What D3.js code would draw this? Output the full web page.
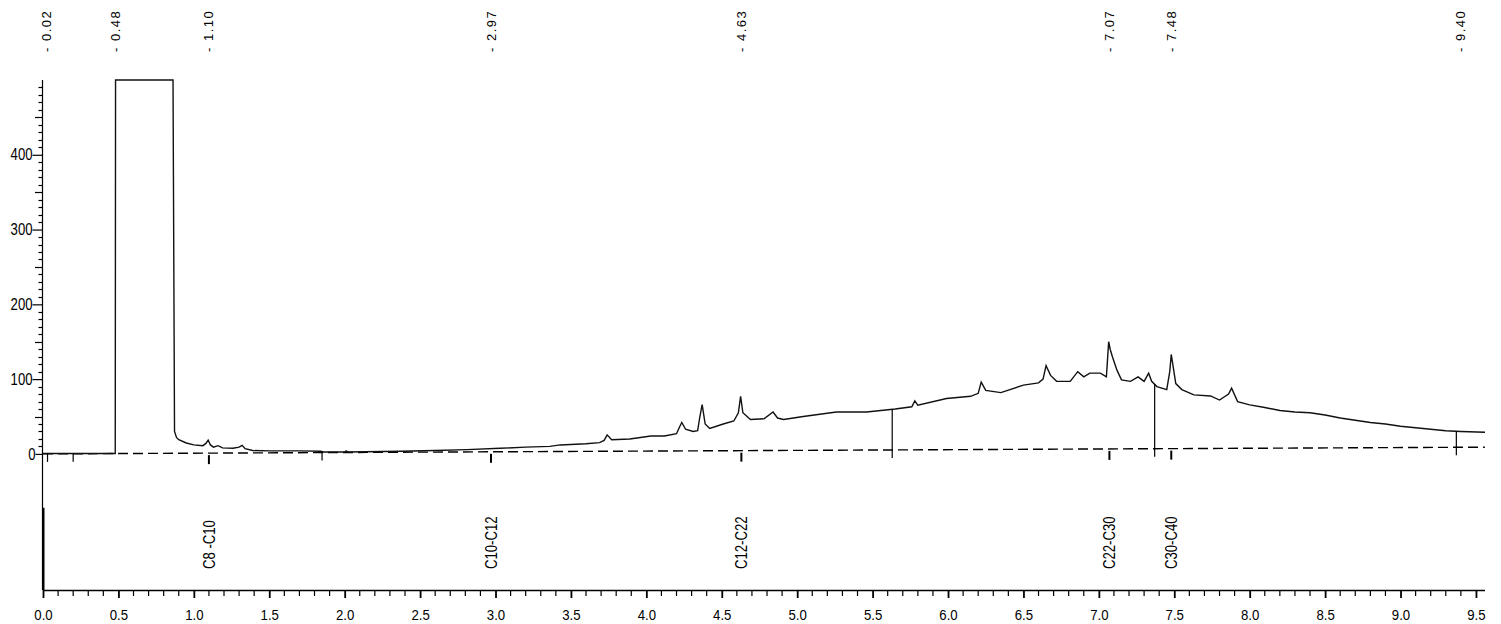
<!DOCTYPE html>
<html>
<head>
<meta charset="utf-8">
<script src="https://cdn.jsdelivr.net/npm/d3@7"></script>
<style>
  body { margin: 0; background: #fff; }
  svg { display: block; font-family: "Liberation Sans", Arial, sans-serif; }
</style>
</head>
<body>
<div id="chart"></div>
<script>
// retention time (min) and detector signal
const traceTime = [0, 0.479, 0.481, 0.862, 0.872, 0.885, 0.9, 0.95, 1.0, 1.06, 1.08, 1.095, 1.11, 1.13, 1.16, 1.19,
  1.26, 1.30, 1.32, 1.34, 1.39, 1.5, 1.7, 1.84, 1.86, 2.0, 2.01, 2.02, 2.37, 2.6, 2.81, 3.03, 3.2, 3.36, 3.43, 3.6,
  3.69, 3.72, 3.74, 3.77, 3.89, 4.03, 4.12, 4.2, 4.22, 4.235, 4.26, 4.31, 4.34, 4.355, 4.37, 4.39, 4.42, 4.51, 4.58,
  4.61, 4.625, 4.64, 4.69, 4.78, 4.84, 4.87, 4.91, 5.04, 5.26, 5.46, 5.65, 5.76, 5.78, 5.8, 5.99, 6.15, 6.2, 6.22,
  6.25, 6.35, 6.5, 6.6, 6.63, 6.65, 6.68, 6.72, 6.81, 6.86, 6.90, 6.94, 7.01, 7.05, 7.065, 7.075, 7.09, 7.12, 7.15,
  7.21, 7.26, 7.30, 7.33, 7.35, 7.385, 7.45, 7.47, 7.48, 7.51, 7.55, 7.63, 7.74, 7.80, 7.86, 7.88, 7.92, 8.0,
  8.1, 8.2, 8.3, 8.4, 8.5, 8.6, 8.7, 8.8, 8.9, 9.0, 9.1, 9.2, 9.3, 9.4, 9.56];
const traceSignal = [0.5, 0.5, 500, 500, 30, 22, 19, 14.6, 12, 11, 14, 18.5, 12, 9, 11, 8,
  7.5, 9, 11.5, 7, 4.5, 4, 4, 3.6, 2.5, 2.6, 4, 2.6, 3.5, 4.5, 5.7, 7.5, 9, 10, 12, 13.5,
  15, 18, 25.5, 19, 20, 24, 24, 27, 36, 42, 33, 30, 31, 50, 66, 40, 34, 40, 44,
  55, 77, 55, 46, 47, 56, 48, 46, 50, 56, 56, 60, 63, 71, 65, 74, 77, 81, 96,
  85, 82, 92, 95, 100, 118, 105, 97, 97, 110, 103, 108, 108, 103, 150, 140, 130, 112, 99,
  97, 103, 97, 108, 97, 90, 86, 110, 133, 94, 86, 79, 77.5, 72, 80, 88, 70, 65.5,
  62, 58, 56, 55, 52, 48, 45, 42, 40, 37, 35, 33, 31, 30, 29];

// drawn baseline (dashed)
const baseTime = [0, 9.56];
const baseSignal = [0, 9];

// integration event marks
const eventTimes = [0.03, 0.2, 1.85, 5.63, 7.37, 9.37];

// peak retention times printed at the top
const peakTimes = [0.02, 0.48, 1.10, 2.97, 4.63, 7.07, 7.48, 9.40];
const peakLabels = ["- 0.02", "- 0.48", "- 1.10", "- 2.97", "- 4.63", "- 7.07", "- 7.48", "- 9.40"];

// carbon range markers
const rangeTimes = [1.10, 2.97, 4.63, 7.07, 7.48];
const rangeLabels = ["C8 -C10", "C10-C12", "C12-C22", "C22-C30", "C30-C40"];

const xTickValues = [0, 0.5, 1, 1.5, 2, 2.5, 3, 3.5, 4, 4.5, 5, 5.5, 6, 6.5, 7, 7.5, 8, 8.5, 9, 9.5];
const xTickLabels = ["0.0", "0.5", "1.0", "1.5", "2.0", "2.5", "3.0", "3.5", "4.0", "4.5", "5.0", "5.5", "6.0", "6.5", "7.0", "7.5", "8.0", "8.5", "9.0", "9.5"];
const yTickValues = [0, 100, 200, 300, 400];
const yTickLabels = ["0", "100", "200", "300", "400"];

const width = 1501, height = 624;
const narrow = 0.82; // horizontal squeeze to mimic a narrow face
const x = d3.scaleLinear().domain([0, 9.56]).range([43, 1485]);
const y = d3.scaleLinear().domain([-182, 500]).range([590, 80]);
const yBase = d3.scaleLinear().domain(baseTime).range(baseSignal);
const traceAt = t => {
  const i = d3.bisectLeft(traceTime, t);
  if (i <= 0) return traceSignal[0];
  const t0 = traceTime[i - 1], t1 = traceTime[i];
  return traceSignal[i - 1] + (traceSignal[i] - traceSignal[i - 1]) * (t - t0) / (t1 - t0);
};

const svg = d3.select("#chart").append("svg")
  .attr("width", width).attr("height", height);

// y axis line + ticks
svg.append("line").attr("x1", 42.5).attr("x2", 42.5)
  .attr("y1", y(500)).attr("y2", y(-182)).attr("stroke", "#000").attr("stroke-width", 1.2);
svg.append("line").attr("x1", 43.5).attr("x2", 43.5)
  .attr("y1", y(-72)).attr("y2", y(-182)).attr("stroke", "#000").attr("stroke-width", 2);

const yMinor = d3.range(10, 500, 10).filter(v => v % 100 !== 0);
svg.append("g").selectAll("line").data(yMinor).enter().append("line")
  .attr("x1", d => d % 50 === 0 ? 35 : 38.5).attr("x2", 42.5)
  .attr("y1", d => Math.round(y(d)) + 0.5).attr("y2", d => Math.round(y(d)) + 0.5)
  .attr("stroke", "#000").attr("stroke-width", 1.2);

const yAxis = svg.append("g")
  .attr("transform", "translate(42.5,0)")
  .call(d3.axisLeft(y).tickValues(yTickValues).tickFormat((d, i) => yTickLabels[i]).tickSize(10).tickPadding(0));
yAxis.select(".domain").remove();
yAxis.selectAll("line").attr("stroke-width", 1.2);
yAxis.selectAll("text").attr("font-size", 16).attr("fill", "#000")
  .attr("x", null).attr("transform", `translate(-10,0) scale(${narrow},1)`);
yAxis.selectAll(".tick").filter(d => d === 0).select("line").attr("x2", -7);
yAxis.selectAll(".tick").filter(d => d === 0).select("text").attr("transform", `translate(-7,0) scale(${narrow},1)`);

// x axis
svg.append("line").attr("x1", 43).attr("x2", 1485)
  .attr("y1", 590.5).attr("y2", 590.5).attr("stroke", "#000").attr("stroke-width", 1.5);
const xMinor = d3.range(1, 96).filter(i => i % 5 !== 0).map(i => i / 10);
svg.append("g").selectAll("line").data(xMinor).enter().append("line")
  .attr("x1", d => x(d)).attr("x2", d => x(d))
  .attr("y1", 590).attr("y2", 596).attr("stroke", "#000").attr("stroke-width", 1.2);
const xAxis = svg.append("g")
  .attr("transform", "translate(0,590)")
  .call(d3.axisBottom(x).tickValues(xTickValues).tickFormat((d, i) => xTickLabels[i]).tickSize(8).tickPadding(11));
xAxis.select(".domain").remove();
xAxis.selectAll("line").attr("stroke-width", 1.8);
xAxis.selectAll("text").attr("font-size", 15).attr("fill", "#000")
  .attr("transform", `scale(0.88,1)`);

// baseline
svg.append("path")
  .attr("d", d3.line()(baseTime.map((t, i) => [x(t), y(baseSignal[i])])))
  .attr("fill", "none").attr("stroke", "#000").attr("stroke-width", 1.4)
  .attr("stroke-dasharray", "10,5");

// chromatogram trace
svg.append("path")
  .attr("d", d3.line().x(d => x(d[0])).y(d => y(d[1]))(d3.zip(traceTime, traceSignal)))
  .attr("fill", "none").attr("stroke", "#111").attr("stroke-width", 1.4)
  .attr("stroke-linejoin", "miter");

// integration events: from trace down below the baseline
svg.append("g").selectAll("line").data(eventTimes).enter().append("line")
  .attr("x1", d => x(d)).attr("x2", d => x(d))
  .attr("y1", d => y(traceAt(d))).attr("y2", d => y(yBase(d)) + 8)
  .attr("stroke", "#000").attr("stroke-width", 1.2);

// range marker ticks
svg.append("g").selectAll("line").data(rangeTimes).enter().append("line")
  .attr("x1", d => x(d)).attr("x2", d => x(d))
  .attr("y1", d => y(yBase(d)) + 2).attr("y2", d => y(yBase(d)) + 11)
  .attr("stroke", "#000").attr("stroke-width", 2);

// range labels
svg.append("g").selectAll("text").data(rangeTimes).enter().append("text")
  .attr("transform", d => `translate(${x(d)},569) rotate(-90) scale(${narrow},1)`)
  .attr("dy", "0.35em").attr("font-size", 16).attr("fill", "#000")
  .text((d, i) => rangeLabels[i]);

// peak time labels at top
svg.append("g").selectAll("text").data(peakTimes).enter().append("text")
  .attr("transform", d => `translate(${x(d)},52) rotate(-90)`)
  .attr("dy", "0.35em").attr("font-size", 13).attr("letter-spacing", "1.5px")
  .attr("fill", "#000")
  .text((d, i) => peakLabels[i]);
</script>
</body>
</html>
